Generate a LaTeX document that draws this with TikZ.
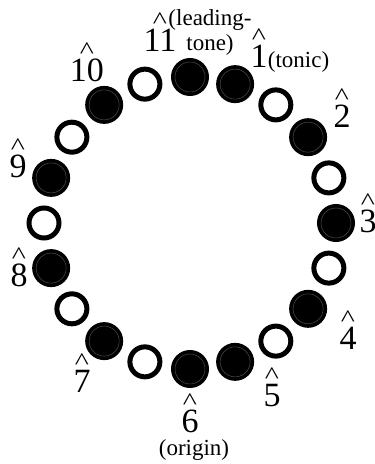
\documentclass[tikz,border=0pt]{standalone}
\usepackage{fontspec}
\setmainfont{Liberation Serif}
\usepackage{tikz}
\usetikzlibrary{positioning}
\definecolor{ring}{gray}{0.3}

% scale degree: digit with a caret above
\newcommand{\hatdeg}[1]{\ooalign{%
  \hfil\raisebox{23.3pt}{\scalebox{1.0}[0.8]{\fontsize{30}{30}\selectfont\textasciicircum}}\hfil\cr
  \hfil#1\hfil\cr}}

\begin{document}
\begin{tikzpicture}[
  x=1pt, y=1pt,
  dark/.style={
    circle, draw=black, fill=black, line width=2pt,
    minimum size=36pt, inner sep=0pt,
    path picture={\draw[ring, line width=0.5pt]
      (path picture bounding box.center) circle (15pt);}
  },
  light/.style={
    circle, draw=black, fill=white, line width=5pt,
    minimum size=30pt, inner sep=0pt
  },
  degree/.style={font=\fontsize{34}{36}\selectfont, inner sep=0pt, anchor=base},
  remark/.style={font=\fontsize{23}{25}\selectfont, inner sep=0pt, align=center}
]
\useasboundingbox (0,0) rectangle (375,464);

% ── RING OF PITCHES ──────────────────────────────────────────

\coordinate (c) at (190,241);

\node[dark]  (deg11) at ([shift={(90:146pt)}]c)  {};
\node[dark]  (deg1)  at ([shift={(72:146pt)}]c)  {};
\node[light] (hole1) at ([shift={(54:146pt)}]c)  {};
\node[dark]  (deg2)  at ([shift={(36:146pt)}]c)  {};
\node[light] (hole2) at ([shift={(18:146pt)}]c)  {};
\node[dark]  (deg3)  at ([shift={(0:146pt)}]c)   {};
\node[light] (hole3) at ([shift={(-18:146pt)}]c) {};
\node[dark]  (deg4)  at ([shift={(-36:146pt)}]c) {};
\node[light] (hole4) at ([shift={(-54:146pt)}]c) {};
\node[dark]  (deg5)  at ([shift={(-72:146pt)}]c) {};
\node[dark]  (deg6)  at ([shift={(-90:146pt)}]c) {};
\node[light] (hole5) at ([shift={(-108:146pt)}]c) {};
\node[dark]  (deg7)  at ([shift={(-126:146pt)}]c) {};
\node[light] (hole6) at ([shift={(-144:146pt)}]c) {};
\node[dark]  (deg8)  at ([shift={(-162:146pt)}]c) {};
\node[light] (hole7) at ([shift={(180:146pt)}]c) {};
\node[dark]  (deg9)  at ([shift={(162:146pt)}]c) {};
\node[light] (hole8) at ([shift={(144:146pt)}]c) {};
\node[dark]  (deg10) at ([shift={(126:146pt)}]c) {};
\node[light] (hole9) at ([shift={(108:146pt)}]c) {};

% ── DEGREE LABELS ────────────────────────────────────────────

\node[degree] (lab11) at (160,412) {\hatdeg{11}};
\node[degree] (lab1)  at (259,396) {\hatdeg{1}};
\node[degree] (lab2)  at (342,336) {\hatdeg{2}};
\node[degree] (lab3)  at (368,231) {\hatdeg{3}};
\node[degree] (lab4)  at (348,114) {\hatdeg{4}};
\node[degree] (lab5)  at (272,57)  {\hatdeg{5}};
\node[degree] (lab6)  at (190,31)  {\hatdeg{6}};
\node[degree] (lab7)  at (82,71)   {\hatdeg{7}};
\node[degree] (lab8)  at (19,177)  {\hatdeg{8}};
\node[degree] (lab9)  at (18,286)  {\hatdeg{9}};
\node[degree] (lab10) at (87,382)  {\hatdeg{10}};

% ── REMARKS ──────────────────────────────────────────────────

\node[remark, anchor=base west] (tonic) at (lab1.base east) {(tonic)};
\node[remark, anchor=south] (leading) at (210,408) {(leading-\\tone)};
\node[remark, anchor=base] (origin) at (194,8) {(origin)};

\end{tikzpicture}
\end{document}
